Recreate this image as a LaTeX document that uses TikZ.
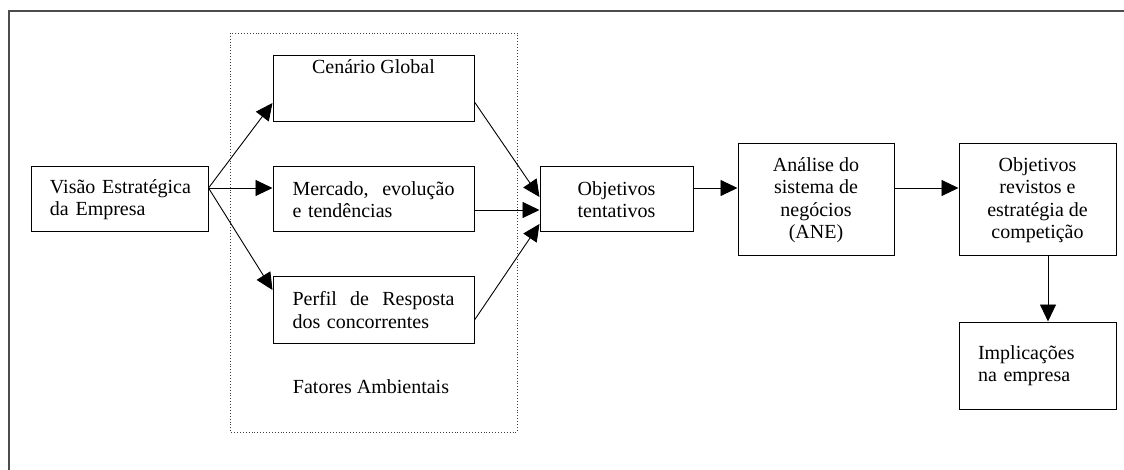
\documentclass[tikz,border=0pt]{standalone}
\usepackage{fontspec}
\setmainfont{Liberation Serif}
\usetikzlibrary{arrows.meta,calc}
\begin{document}
\begin{tikzpicture}[x=1pt,y=-1pt,
  box/.style={draw=black,line width=1pt,rectangle,inner sep=0pt,
    font=\fontsize{20}{22.5}\selectfont},
  arr/.style={draw=black,line width=0.9pt,-{Triangle[length=17pt,width=16pt]}},
  lbl/.style={font=\fontsize{20}{22.5}\selectfont,inner sep=0pt}]
\useasboundingbox (0,0) rectangle (1124,470);
\fill[white] (0,0) rectangle (1124,470);
% outer frame
\draw[line width=1.4pt,color=black!70] (9,470) -- (9,11) -- (1124,11);
% environmental factors group
\draw[dotted,line width=0.9pt,color=black!75] (230,33) rectangle (517,432);
\node[lbl] (fat) at (371,387) {Fatores Ambientais};

% boxes
\node[box,minimum width=177pt,minimum height=65pt,align=left,text width=150pt] (vis) at (119.5,199.5)
  {\hspace*{5.5pt}Visão Estratégica\\\hspace*{5.5pt}da Empresa};
\node[box,minimum width=201pt,minimum height=66pt,align=center] (cen) at (373.5,89)
  {Cenário Global\\[22pt]};
\node[box,minimum width=201pt,minimum height=65pt,align=left,text width=162pt] (mer) at (373.5,199.5)
  {Mercado,\hfill evolução\\e tendências};
\node[box,minimum width=201pt,minimum height=66pt,align=left,text width=162pt] (per) at (373.5,310)
  {Perfil\hfill de\hfill Resposta\\dos concorrentes};
\node[box,minimum width=153pt,minimum height=65pt,align=center] (obj) at (616.5,199.5)
  {Objetivos\\tentativos};
\node[box,minimum width=156pt,minimum height=112pt,align=center] (ane) at (816,200)
  {Análise do\\sistema de\\negócios\\(ANE)};
\node[box,minimum width=157pt,minimum height=112pt,align=center] (rev) at (1037.5,200)
  {Objetivos\\revistos e\\estratégia de\\competição};
\node[box,minimum width=157pt,minimum height=87pt,align=left,text width=119pt] (imp) at (1037.5,365.5)
  {Implicações\\na empresa\\[18pt]};

% connectors
\draw[arr] ($(vis.east)+(0,-11.5)$) -- ($(cen.west)+(0,14)$);
\draw[arr] ($(vis.east)+(0,-11.5)$) -- ($(mer.west)+(0,-11.5)$);
\draw[arr] ($(vis.east)+(0,-11.5)$) -- ($(per.west)+(0,-20)$);
\draw[arr] ($(cen.east)+(0,13)$) -- ($(obj.west)+(0,-2.5)$);
\draw[arr] ($(mer.east)+(0,10.5)$) -- ($(obj.west)+(0,10.5)$);
\draw[arr] ($(per.east)+(0,10)$) -- ($(obj.west)+(0,24.5)$);
\draw[arr] ($(obj.east)+(0,-11.5)$) -- ($(ane.west)+(0,-12)$);
\draw[arr] ($(ane.east)+(0,-12)$) -- ($(rev.west)+(0,-12)$);
\draw[arr] ($(rev.south)+(10.5,0)$) -- ($(imp.north)+(10.5,0)$);
\end{tikzpicture}
\end{document}
